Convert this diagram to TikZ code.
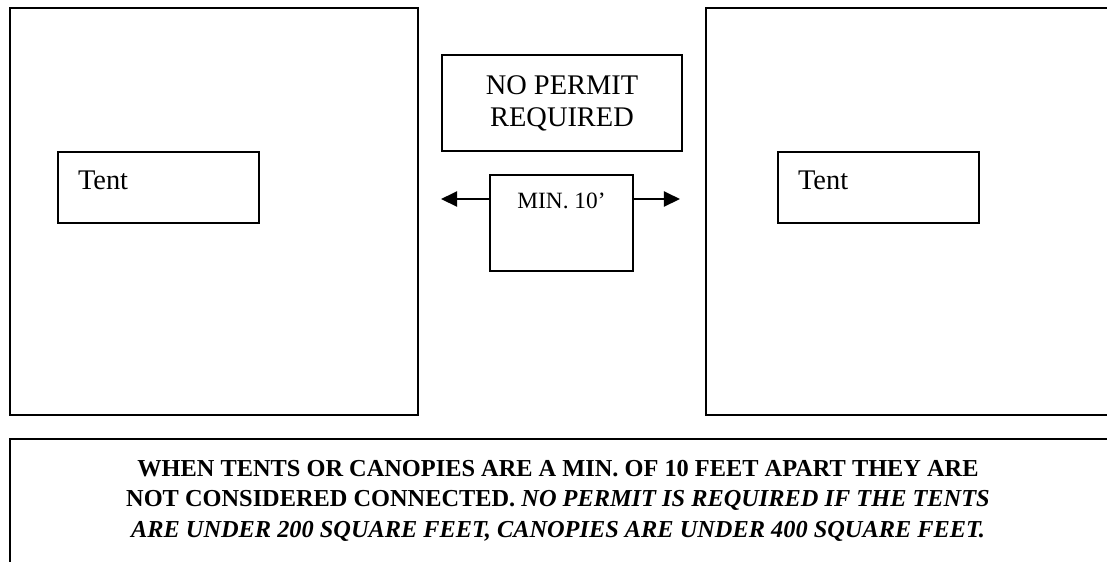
\documentclass[tikz,border=0pt]{standalone}
\usepackage{fontspec}
\setmainfont{Liberation Serif}
\usetikzlibrary{arrows.meta,positioning}

\begin{document}
\begin{tikzpicture}[
    x=0.4926pt, y=-0.4926pt,
    lot/.style={draw,line width=1pt,anchor=north west,minimum width=201pt,minimum height=200.5pt,inner sep=0pt},
    tent/.style={draw,line width=1pt,anchor=north west,inner xsep=9.85pt,inner ysep=0pt,text width=79.3pt,align=left,text height=18.7pt,text depth=16.3pt,font=\fontsize{14}{16}\selectfont},
    permit/.style={draw,line width=1pt,anchor=north west,minimum width=118.2pt,minimum height=47.3pt,inner sep=0pt,align=center,font=\fontsize{14}{15.8}\selectfont},
    gapbox/.style={draw,line width=1pt,anchor=north west,minimum width=70.4pt,inner sep=0pt,text height=16.7pt,text depth=30.5pt,font=\fontsize{11.5}{13}\selectfont},
    dimarrow/.style={-{Triangle[length=7.9pt,width=7.4pt]},line width=1pt},
    note/.style={anchor=north,inner sep=0pt,align=center,font=\fontsize{12}{15}\selectfont\bfseries}
]
\useasboundingbox (0,0) rectangle (1107,561);
\clip (0,0) rectangle (1107,561);
\node[lot] (lotA) at (9,7) {};
\node[lot] (lotB) at (705,7) {};
\node[tent] (tentA) at (57,151) {Tent};
\node[tent] (tentB) at (777,151) {Tent};
\node[permit] (permit) at (441,54) {NO PERMIT\\REQUIRED};
\node[gapbox] (gap) at (489,174) {MIN. 10'};
\coordinate (tipA) at (441,199);
\coordinate (tipB) at (680,199);
\draw[dimarrow] (gap.west |- tipA) -- (tipA);
\draw[dimarrow] (gap.east |- tipB) -- (tipB);
\node[lot,minimum width=543.8pt,minimum height=69pt] (notebox) at (9,438) {};
\node[note] (note) at (558,459.5) {WHEN TENTS OR CANOPIES ARE A MIN. OF 10 FEET APART THEY ARE\\
    NOT CONSIDERED CONNECTED. \textit{NO PERMIT IS REQUIRED IF THE TENTS}\\
    \textit{ARE UNDER 200 SQUARE FEET, CANOPIES ARE UNDER 400 SQUARE FEET.}};
\end{tikzpicture}
\end{document}
